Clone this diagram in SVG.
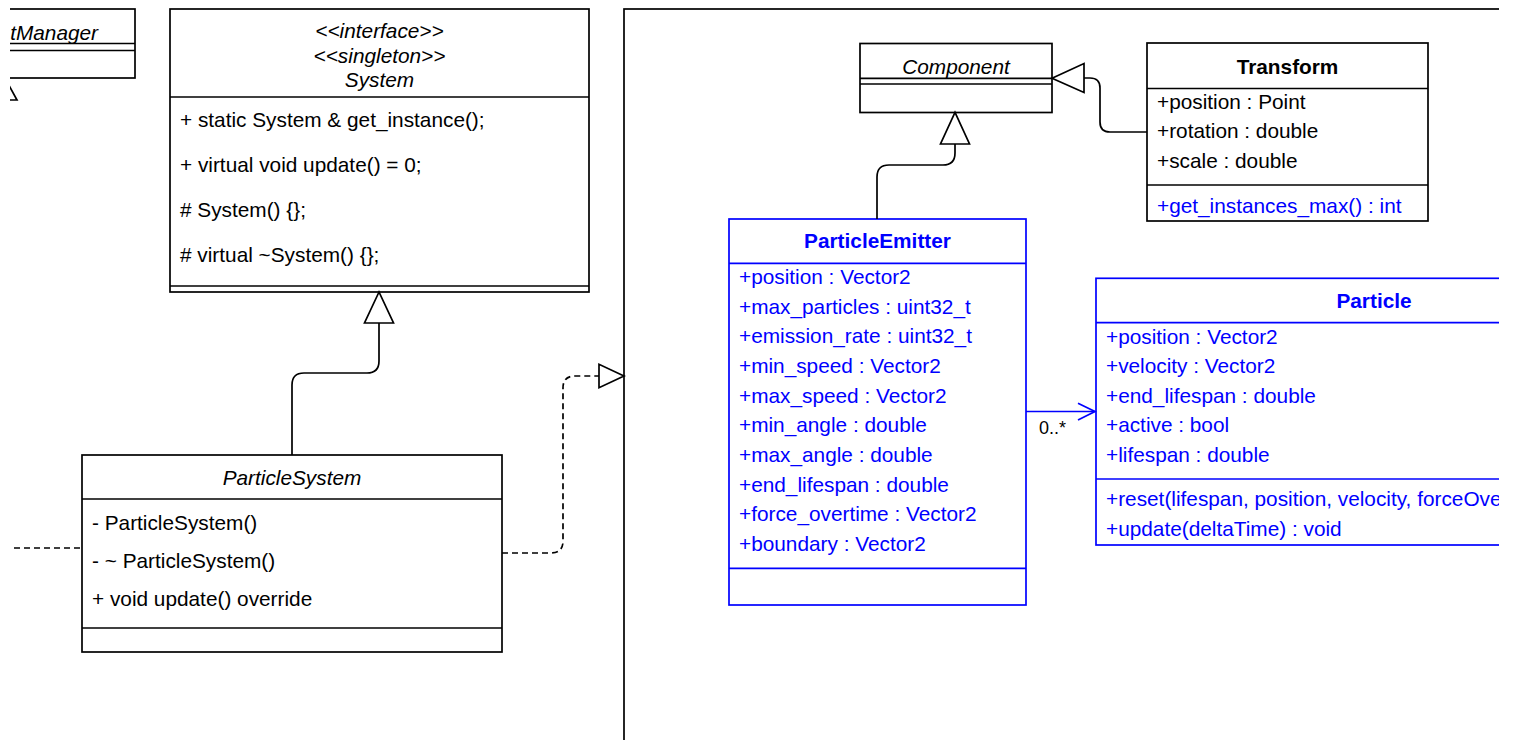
<svg xmlns="http://www.w3.org/2000/svg" width="1514" height="740" viewBox="0 0 1514 740">
<defs>
<clipPath id="page"><rect x="10" y="0" width="1489" height="740"/></clipPath>
</defs>
<style>
text{font-family:"Liberation Sans",Arial,sans-serif;font-size:20.8px;fill:#000}
.it{font-style:italic}
.b{font-weight:bold}
.c{text-anchor:middle}
.blue{fill:#0000FF}
.box{fill:#fff;stroke:#000;stroke-width:1.7}
.bbox{fill:#fff;stroke:#0000FF;stroke-width:1.7}
.ln{fill:none;stroke:#000;stroke-width:1.7}
.bln{fill:none;stroke:#0000FF;stroke-width:1.7}
.dash{fill:none;stroke:#000;stroke-width:1.7;stroke-dasharray:6 4}
.tri{fill:#fff;stroke:#000;stroke-width:1.7;stroke-linejoin:miter}
.lbl{font-size:18px}
</style>
<rect width="1514" height="740" fill="#fff"/>
<g clip-path="url(#page)">
<g id="frame">
<rect class="box" x="624" y="9" width="1000" height="800"/>
</g>
<g id="tManager">
<rect class="box" x="-120" y="9" width="255" height="69"/>
<line class="ln" x1="-120" y1="43.5" x2="135" y2="43.5"/>
<line class="ln" x1="-120" y1="50.5" x2="135" y2="50.5"/>
<text class="it" x="98" y="39.5" text-anchor="end">tManager</text>
</g>
<g id="System">
<rect class="box" x="170" y="9" width="419" height="283"/>
<line class="ln" x1="170" y1="97" x2="589" y2="97"/>
<line class="ln" x1="170" y1="286" x2="589" y2="286"/>
<text class="it c" x="379.5" y="38">&lt;&lt;interface&gt;&gt;</text>
<text class="it c" x="379.5" y="62.5">&lt;&lt;singleton&gt;&gt;</text>
<text class="it c" x="379.5" y="87">System</text>
<text x="180" y="127">+ static System &amp; get_instance();</text>
<text x="180" y="172">+ virtual void update() = 0;</text>
<text x="180" y="217"># System() {};</text>
<text x="180" y="262"># virtual ~System() {};</text>
</g>
<g id="ParticleSystem">
<rect class="box" x="82" y="455" width="420" height="197"/>
<line class="ln" x1="82" y1="499" x2="502" y2="499"/>
<line class="ln" x1="82" y1="628" x2="502" y2="628"/>
<text class="it c" x="292" y="485">ParticleSystem</text>
<text x="92" y="530">- ParticleSystem()</text>
<text x="92" y="568">- ~ ParticleSystem()</text>
<text x="92" y="606">+ void update() override</text>
</g>
<g id="Component">
<rect class="box" x="860" y="43.5" width="192" height="69"/>
<line class="ln" x1="860" y1="78.3" x2="1052" y2="78.3"/>
<line class="ln" x1="860" y1="84" x2="1052" y2="84"/>
<text class="it c" x="956" y="74">Component</text>
</g>
<g id="Transform">
<rect class="box" x="1147" y="43" width="281" height="178"/>
<line class="ln" x1="1147" y1="88.5" x2="1428" y2="88.5"/>
<line class="ln" x1="1147" y1="185" x2="1428" y2="185"/>
<text class="b c" x="1287.5" y="74">Transform</text>
<text x="1157" y="108.5">+position : Point</text>
<text x="1157" y="138">+rotation : double</text>
<text x="1157" y="168">+scale : double</text>
<text class="blue" x="1157" y="212.5">+get_instances_max() : int</text>
</g>
<g id="ParticleEmitter">
<rect class="bbox" x="729" y="219" width="297" height="386"/>
<line class="bln" x1="729" y1="263.3" x2="1026" y2="263.3"/>
<line class="bln" x1="729" y1="568.3" x2="1026" y2="568.3"/>
<text class="b c blue" x="877.5" y="248.3">ParticleEmitter</text>
<text class="blue" x="739" y="283.8">+position : Vector2</text>
<text class="blue" x="739" y="313.5">+max_particles : uint32_t</text>
<text class="blue" x="739" y="343.2">+emission_rate : uint32_t</text>
<text class="blue" x="739" y="372.9">+min_speed : Vector2</text>
<text class="blue" x="739" y="402.6">+max_speed : Vector2</text>
<text class="blue" x="739" y="432.3">+min_angle : double</text>
<text class="blue" x="739" y="462">+max_angle : double</text>
<text class="blue" x="739" y="491.7">+end_lifespan : double</text>
<text class="blue" x="739" y="521.4">+force_overtime : Vector2</text>
<text class="blue" x="739" y="551.1">+boundary : Vector2</text>
</g>
<g id="Particle">
<rect class="bbox" x="1096" y="278.3" width="556" height="266.7"/>
<line class="bln" x1="1096" y1="322.7" x2="1652" y2="322.7"/>
<line class="bln" x1="1096" y1="479" x2="1652" y2="479"/>
<text class="b c blue" x="1374" y="308.3">Particle</text>
<text class="blue" x="1106" y="343.8">+position : Vector2</text>
<text class="blue" x="1106" y="373.2">+velocity : Vector2</text>
<text class="blue" x="1106" y="402.6">+end_lifespan : double</text>
<text class="blue" x="1106" y="432.2">+active : bool</text>
<text class="blue" x="1106" y="461.6">+lifespan : double</text>
<text class="blue" x="1106" y="505.5">+reset(lifespan, position, velocity, forceOve</text>
<text class="blue" x="1106" y="535.5">+update(deltaTime) : void</text>
</g>
<g id="connectors">
<path class="ln" d="M292,455 V385 Q292,373 304,373 H367 Q379,373 379,361 V323"/>
<polygon class="tri" points="379,292 364.5,323 393.5,323"/>
<path class="dash" d="M502,553 H551 Q563,553 563,541 V388 Q563,376 575,376 H599"/>
<polygon class="tri" points="624,376 599,364.3 599,387.7"/>
<path class="dash" d="M14,548 H82"/>
<polygon class="tri" points="5,78 -7,100 17,100"/>
<path class="ln" d="M1147,132 H1110 Q1100,132 1100,122 V88 Q1100,78 1090,78 H1084"/>
<polygon class="tri" points="1052,78.3 1084,63.5 1084,92.5"/>
<path class="ln" d="M877,219 V177 Q877,165 889,165 H943 Q955,165 955,153 V144"/>
<polygon class="tri" points="955,112.3 940.5,144 969.5,144"/>
<path class="bln" d="M1026,411.5 H1095"/>
<polyline class="bln" points="1078,403.3 1095,411.5 1078,420"/>
<text class="lbl" x="1039" y="434">0..*</text>
</g>
</g>
</svg>
